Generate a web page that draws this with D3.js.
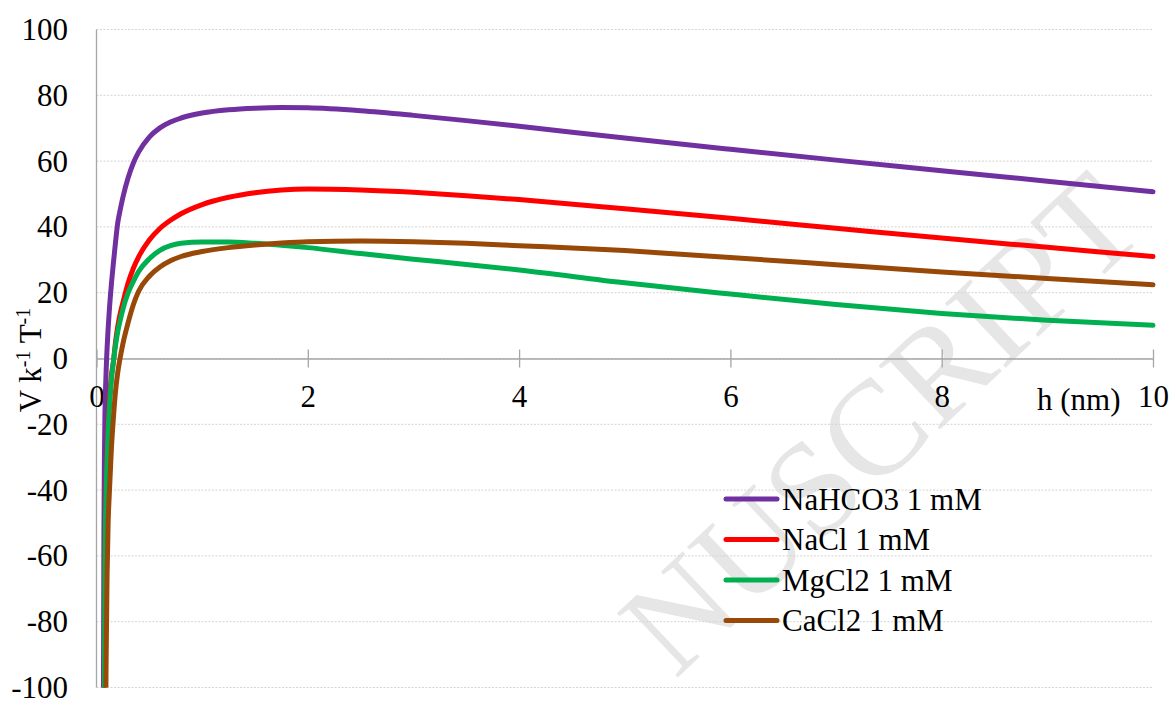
<!DOCTYPE html>
<html>
<head>
<meta charset="utf-8">
<script src="https://cdn.jsdelivr.net/npm/d3@7"></script>
<style>
  html, body { margin: 0; padding: 0; background: #ffffff; }
  svg { display: block; }
  text { font-family: "Liberation Serif", "Times New Roman", serif; }
</style>
</head>
<body>
<div id="chart"></div>
<script>
// ---- data ----
const hValues = [0.065, 0.07, 0.075, 0.08, 0.09, 0.1, 0.11, 0.12, 0.14, 0.16, 0.18, 0.2, 0.22, 0.25,
                 0.3, 0.35, 0.4, 0.5, 0.6, 0.7, 0.8, 1.0, 1.25, 1.5, 1.75, 2, 2.5, 3, 3.5, 4, 5, 6, 7, 8, 9, 10];
const nahco3 = [-110, -55, -30, -17, -5, 3, 9, 14, 22.2, 29, 35.3, 41, 44.5, 49,
                55, 59.5, 62.8, 67.3, 70.1, 71.9, 73.1, 74.6, 75.6, 76.1, 76.3, 76.2, 75.3, 73.9, 72.3, 70.6, 67.0, 63.6, 60.3, 57.1, 53.9, 50.7];
const nacl   = [-140, -125, -100, -62, -40, -29, -20, -14, -5.5, -1, 5, 9.5, 13, 17,
                23, 27.5, 31, 36, 39.5, 42, 44, 46.8, 49, 50.4, 51.2, 51.5, 51.2, 50.5, 49.5, 48.3, 45.5, 42.6, 39.6, 36.6, 33.8, 31.0];
const mgcl2  = [-140, -125, -100, -64, -42, -31, -22, -16, -7, -1, 4, 8, 11, 15,
                20, 23.5, 26.5, 30.3, 32.9, 34.3, 35, 35.4, 35.4, 35, 34.4, 33.7, 31.9, 30.2, 28.6, 26.9, 23, 19.6, 16.4, 13.7, 11.6, 10.1];
const cacl2  = [-250, -210, -175, -145, -95, -66, -50, -42, -28, -18, -10, -4.5, -0.5, 4.5,
                11, 16.5, 20.5, 25.0, 27.8, 29.7, 31, 32.5, 33.7, 34.5, 35.1, 35.5, 35.7, 35.5, 35, 34.3, 32.8, 30.7, 28.5, 26.3, 24.3, 22.4];
const seriesNames = ["NaHCO3 1 mM", "NaCl 1 mM", "MgCl2 1 mM", "CaCl2 1 mM"];
const seriesColors = ["#7030A0", "#FF0000", "#00B050", "#984807"];
const yTicks = [-100, -80, -60, -40, -20, 0, 20, 40, 60, 80, 100];
const xTicks = [0, 2, 4, 6, 8, 10];
const xTitle = "h (nm)";
const watermark = "NUSCRIPT";

const allSeries = [nahco3, nacl, mgcl2, cacl2];

// ---- layout ----
const W = 1173, H = 704;
const svg = d3.select("#chart").append("svg").attr("width", W).attr("height", H);

const x = d3.scaleLinear().domain([0, 10]).range([96.5, 1153]);
const y = d3.scaleLinear().domain([-100, 100]).range([687.5, 29.5]);

// watermark
svg.append("text")
  .attr("transform", "translate(912,456) rotate(-43.4)")
  .attr("text-anchor", "middle")
  .attr("font-size", 135)
  .attr("fill", "#e6e6e6")
  .text(watermark);

// gridlines
svg.append("g").selectAll("line").data(yTicks).join("line")
  .attr("x1", x(0)).attr("x2", x(10))
  .attr("y1", d => y(d)).attr("y2", d => y(d))
  .attr("stroke", "#d4d4d4").attr("stroke-width", 1)
  .attr("stroke-dasharray", "2,1.5");

// y axis line (no ticks)
svg.append("line")
  .attr("x1", x(0)).attr("x2", x(0)).attr("y1", y(100)).attr("y2", y(-100))
  .attr("stroke", "#a6a6a6").attr("stroke-width", 1.3);

// y tick labels
svg.append("g").selectAll("text").data(yTicks).join("text")
  .attr("x", 68).attr("y", d => y(d) + 10.5)
  .attr("text-anchor", "end")
  .attr("font-size", 31)
  .attr("fill", "#000")
  .text(d => d);

// x axis at y=0
const xAxis = d3.axisBottom(x).tickValues(xTicks).tickFormat(d3.format("d")).tickSizeOuter(0);
const gx = svg.append("g").attr("transform", `translate(0,${y(0)})`).call(xAxis);
gx.select(".domain").attr("stroke", "#a6a6a6").attr("stroke-width", 1.3);
gx.selectAll(".tick line").attr("y1", -9).attr("y2", 9).attr("stroke", "#a6a6a6").attr("stroke-width", 1.3);
gx.selectAll(".tick text")
  .attr("y", 48).attr("dy", 0)
  .attr("font-family", "'Liberation Serif', 'Times New Roman', serif")
  .attr("font-size", 31).attr("fill", "#000");

// x title
svg.append("text")
  .attr("x", 1037).attr("y", y(0) + 51)
  .attr("font-size", 31).attr("fill", "#000")
  .text(xTitle);

// y title with superscripts
const yt = svg.append("text")
  .attr("transform", "translate(41,360) rotate(-90)")
  .attr("text-anchor", "middle")
  .attr("font-size", 31).attr("fill", "#000");
yt.append("tspan").text("V k");
yt.append("tspan").attr("font-size", 20).attr("dy", -11).text("-1");
yt.append("tspan").attr("dy", 11).text(" T");
yt.append("tspan").attr("font-size", 20).attr("dy", -11).text("-1");

// clip for curves
svg.append("clipPath").attr("id", "plotclip").append("rect")
  .attr("x", x(0)).attr("y", y(100) - 5).attr("width", x(10) - x(0) + 5).attr("height", y(-100) - y(100) + 5);

const line = d3.line()
  .x((d, i) => x(hValues[i]))
  .y(d => y(d))
  .curve(d3.curveMonotoneX);

svg.append("g").attr("clip-path", "url(#plotclip)")
  .selectAll("path").data(allSeries).join("path")
  .attr("d", d => line(d))
  .attr("fill", "none")
  .attr("stroke", (d, i) => seriesColors[i])
  .attr("stroke-width", 5)
  .attr("stroke-linecap", "round")
  .attr("stroke-linejoin", "round");

// legend
const legendY = [499, 539.5, 580, 620.5];
const lg = svg.append("g");
seriesNames.forEach((name, i) => {
  lg.append("line")
    .attr("x1", 726).attr("x2", 777)
    .attr("y1", legendY[i]).attr("y2", legendY[i])
    .attr("stroke", seriesColors[i]).attr("stroke-width", 5)
    .attr("stroke-linecap", "round");
  lg.append("text")
    .attr("x", 782).attr("y", legendY[i] + 10.5)
    .attr("font-size", 31).attr("fill", "#000")
    .text(name);
});
</script>
</body>
</html>
